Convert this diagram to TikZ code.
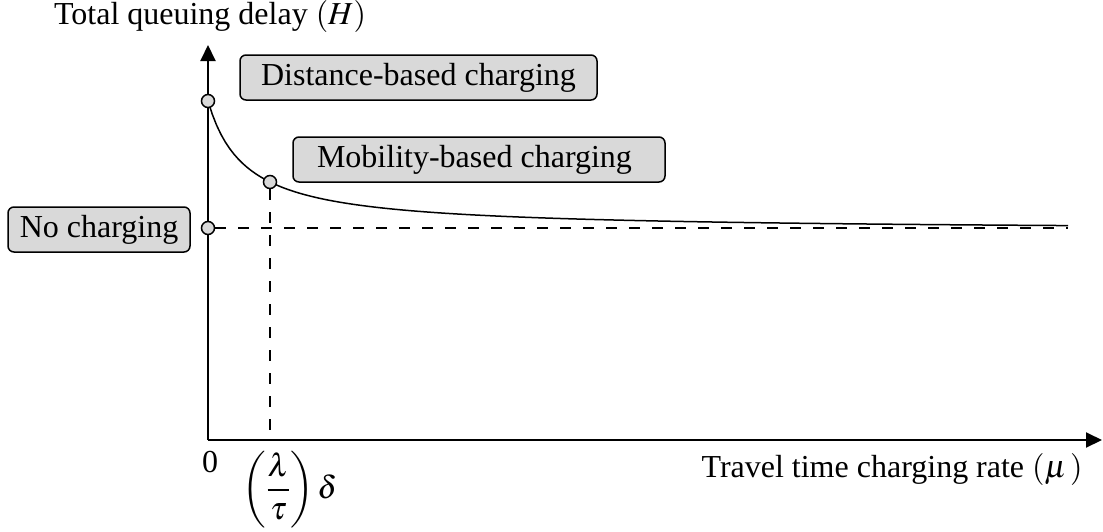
\documentclass[tikz,border=0pt]{standalone}
\usepackage{mathptmx}
\usepackage[no-math]{fontspec}
\setmainfont{Liberation Serif}
\usetikzlibrary{arrows.meta}
\definecolor{boxgray}{RGB}{217,217,217}
\begin{document}
\begin{tikzpicture}[x=1pt,y=-1pt,
  every node/.style={font=\fontsize{32}{38}\selectfont},
  lbox/.style={draw, line width=1.5pt, fill=boxgray, rounded corners=6pt, minimum height=45pt, inner sep=0pt},
  dot/.style={circle, draw, line width=1.5pt, fill=boxgray, minimum size=13pt, inner sep=0pt},
  axis/.style={line width=2pt, -{Triangle[length=16pt,width=15pt]}},
  guide/.style={line width=1.5pt, dash pattern=on 11pt off 12pt},
  curve/.style={line width=1.5pt}]
\useasboundingbox (0,0) rectangle (1103,531);
\coordinate (O) at (208,440);
\coordinate (ytip) at (208,45);
\coordinate (xtip) at (1102,440);
\coordinate (dend) at (1068,228);
\draw[axis] (O) -- (ytip);
\draw[axis] (O) -- (xtip);
\draw[curve] plot[domain=208:1068,samples=200] (\x,{231-4877/(\x-170.5)});
\node[dot] (dd) at (208,101) {};
\node[dot] (mb) at (270,182) {};
\node[dot] (nc) at (208,228) {};
\draw[guide] (nc.east) -- (dend);
\draw[guide] (mb.south) -- (mb |- O);
\node[lbox, minimum width=357pt] (dbox) at (418.5,77.5) {Distance-based charging};
\node[lbox, minimum width=372pt] (mbox) at (479,159.5) {Mobility-based charging\hspace*{9pt}};
\node[lbox, minimum width=182pt] (nbox) at (99,229.5) {No charging};
\node[anchor=base] (ylab) at (210,24) {Total queuing delay $(H)$};
\node[anchor=base] (xlab) at (892,477) {Travel time charging rate $(\mu\mkern2mu)$};
\node[anchor=base] (zero) at (210,472) {0};
\node (tick) at (290,490) {$\displaystyle\left(\frac{\lambda}{\tau}\right)\delta$};
\end{tikzpicture}
\end{document}
